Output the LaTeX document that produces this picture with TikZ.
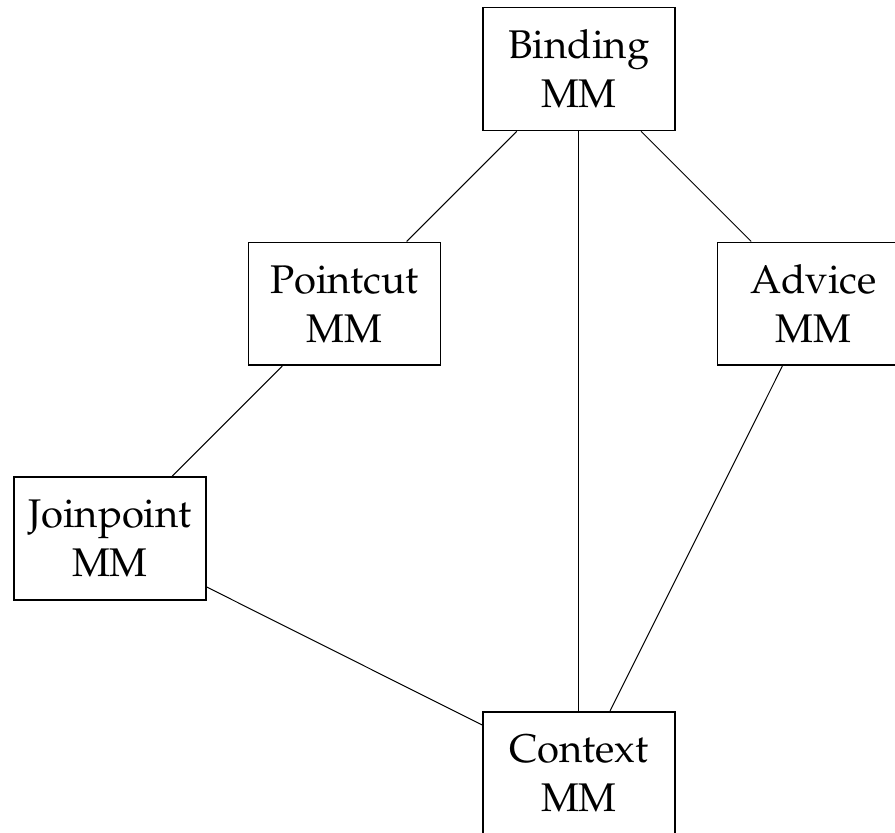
\documentclass[tikz,border=0pt]{standalone}
\usepackage[T1]{fontenc}
\usepackage{mathpazo}
\begin{document}
\begin{tikzpicture}[x=117.25pt,y=-117.4pt]
    % Definizione stili
    \tikzset{metamodel/.style={draw, line width=0.8pt, minimum width=96pt, minimum height=61.5pt, inner sep=3pt, align=center, font=\fontsize{20}{24.5}\selectfont}}
    \tikzstyle{link}=[line width=0.5pt]

    % Area visibile
    \useasboundingbox (-0.469,-0.294) rectangle (3.348,3.250);
    \clip (-0.469,-0.294) rectangle (3.348,3.250);

    % Metamodelli
    \node[metamodel] (binding) at (2,0) {Binding\\MM};
    \node[metamodel] (pointcut) at (1,1) {Pointcut\\MM};
    \node[metamodel] (advice) at (3,1) {Advice\\MM};
    \node[metamodel] (joinpoint) at (0,2) {Joinpoint\\MM};
    \node[metamodel] (context) at (2,3) {Context\\MM};

    % Collegamenti
    \draw[link] (binding) -- (pointcut);
    \draw[link] (binding) -- (advice);
    \draw[link] (binding) -- (context);
    \draw[link] (pointcut) -- (joinpoint);
    \draw[link] (advice) -- (context);
    \draw[link] (joinpoint) -- (context);
\end{tikzpicture}
\end{document}
